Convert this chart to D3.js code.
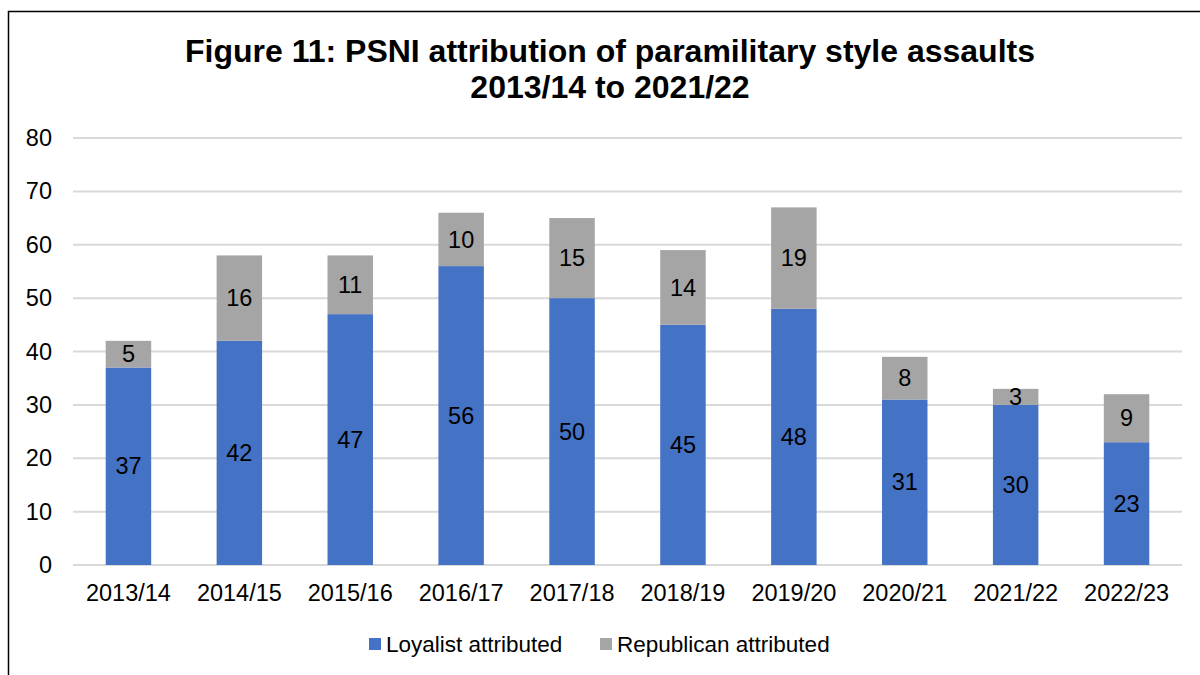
<!DOCTYPE html>
<html>
<head>
<meta charset="utf-8">
<script src="https://cdnjs.cloudflare.com/ajax/libs/d3/7.8.5/d3.min.js"></script>
<style>
  body { margin: 0; background: #fff; }
  svg { font-family: "Liberation Sans", Arial, sans-serif; }
</style>
</head>
<body>
<svg id="chart" width="1200" height="675"></svg>
<script>
var years = ["2013/14", "2014/15", "2015/16", "2016/17", "2017/18", "2018/19", "2019/20", "2020/21", "2021/22", "2022/23"];
var loyalist = [37, 42, 47, 56, 50, 45, 48, 31, 30, 23];
var republican = [5, 16, 11, 10, 15, 14, 19, 8, 3, 9];
var yTicks = [0, 10, 20, 30, 40, 50, 60, 70, 80];
var seriesNames = ["Loyalist attributed", "Republican attributed"];
var colors = ["#4472c4", "#a5a5a5"];

var svg = d3.select("#chart"),
    margin = {top: 138, right: 18, bottom: 110, left: 73},
    width = +svg.attr("width") - margin.left - margin.right,
    height = +svg.attr("height") - margin.top - margin.bottom;

// outer frame (clipped at right/bottom like the source)
svg.append("rect")
    .attr("x", 8.5).attr("y", 11.5)
    .attr("width", 1300).attr("height", 1000)
    .attr("fill", "none").attr("stroke", "#000").attr("stroke-width", 1.5);

svg.append("text")
    .attr("x", 610).attr("y", 62)
    .attr("text-anchor", "middle")
    .style("font-size", "32px").style("font-weight", "bold")
    .text("Figure 11: PSNI attribution of paramilitary style assaults");
svg.append("text")
    .attr("x", 610).attr("y", 98)
    .attr("text-anchor", "middle")
    .style("font-size", "32px").style("font-weight", "bold")
    .text("2013/14 to 2021/22");

var g = svg.append("g")
    .attr("transform", "translate(" + margin.left + "," + margin.top + ")");

var x = d3.scaleBand().domain(years).range([0, width]).paddingInner(0.59).paddingOuter(0.295);
var y = d3.scaleLinear().domain([0, 80]).range([height, 0]);

// gridlines
g.append("g")
    .selectAll("line")
    .data(yTicks)
    .enter().append("line")
    .attr("x1", 0).attr("x2", width)
    .attr("y1", function(d) { return y(d); })
    .attr("y2", function(d) { return y(d); })
    .attr("stroke", "#d9d9d9").attr("stroke-width", 2);

// y axis labels
g.append("g")
    .call(d3.axisLeft(y).tickValues(yTicks).tickSize(0).tickPadding(21))
    .call(function(a) { a.select(".domain").remove(); })
    .selectAll("text")
    .style("font-size", "23.5px")
    .style("font-family", "Liberation Sans, Arial, sans-serif")
    .attr("fill", "#000");

// x axis labels
g.append("g")
    .attr("transform", "translate(0," + height + ")")
    .call(d3.axisBottom(x).tickSize(0).tickPadding(19))
    .call(function(a) { a.select(".domain").remove(); })
    .selectAll("text")
    .style("font-size", "23.5px")
    .style("font-family", "Liberation Sans, Arial, sans-serif")
    .attr("fill", "#000");

var data = years.map(function(yr, i) {
  return {year: yr, loyalist: loyalist[i], republican: republican[i]};
});
var stack = d3.stack().keys(["loyalist", "republican"])(data);

var layers = g.selectAll(".layer")
    .data(stack)
    .enter().append("g")
    .attr("class", "layer")
    .attr("fill", function(d, i) { return colors[i]; });

layers.selectAll("rect")
    .data(function(d) { return d; })
    .enter().append("rect")
    .attr("x", function(d) { return x(d.data.year); })
    .attr("y", function(d) { return y(d[1]); })
    .attr("width", x.bandwidth())
    .attr("height", function(d) { return y(d[0]) - y(d[1]); });

layers.selectAll("text")
    .data(function(d) { return d; })
    .enter().append("text")
    .attr("x", function(d) { return x(d.data.year) + x.bandwidth() / 2; })
    .attr("y", function(d) { return y((d[0] + d[1]) / 2); })
    .attr("dy", "0.35em")
    .attr("text-anchor", "middle")
    .attr("fill", "#000")
    .style("font-size", "23.5px")
    .text(function(d) { return d[1] - d[0]; });

// legend
var legend = svg.append("g").attr("transform", "translate(0,644)");
var legendX = [369, 600];
seriesNames.forEach(function(name, i) {
  legend.append("rect")
    .attr("x", legendX[i]).attr("y", -6)
    .attr("width", 12).attr("height", 12)
    .attr("fill", colors[i]);
  legend.append("text")
    .attr("x", legendX[i] + 17).attr("y", 0)
    .attr("dy", "0.35em")
    .style("font-size", "22.5px")
    .text(name);
});
</script>
</body>
</html>
